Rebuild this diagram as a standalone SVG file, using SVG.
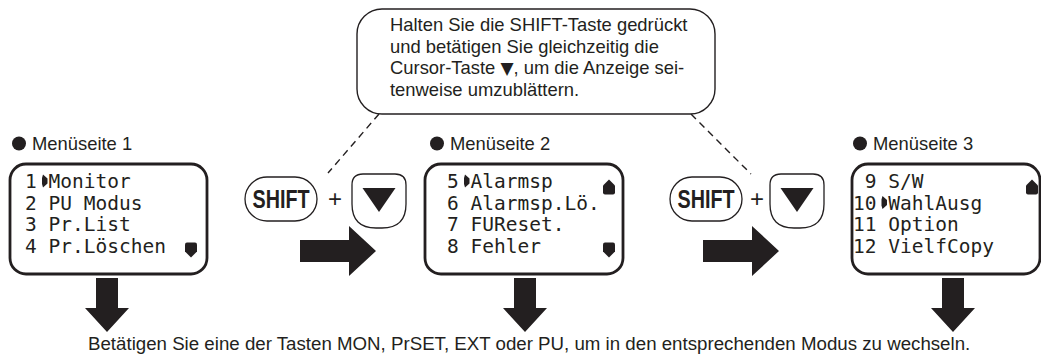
<svg xmlns="http://www.w3.org/2000/svg" width="1041" height="357" viewBox="0 0 1041 357">
<defs>
<style>
.txt{font-family:"Liberation Sans",Arial,sans-serif;font-size:18.4px;fill:#231f20}
.btm{font-family:"Liberation Sans",Arial,sans-serif;font-size:18.7px;fill:#231f20}
.mono{font-family:"DejaVu Sans Mono",monospace;font-size:19.5px;fill:#231f20}
.box{fill:#fff;stroke:#231f20;stroke-width:2.8}
.key{fill:#fff;stroke:#231f20;stroke-width:1.3}
.blk{fill:#231f20}
.dash{stroke:#231f20;stroke-width:1.4;stroke-dasharray:7 5;fill:none}
.shift{font-family:"Liberation Sans",Arial,sans-serif;font-weight:bold;font-size:26px;fill:#231f20}
.plus{font-family:"Liberation Sans",Arial,sans-serif;font-size:24px;fill:#231f20}
</style>
<path id="rarrow" d="M0,-11 H49 V-25 L76,0 L49,25 V11 H0 Z"/>
<path id="darrow" d="M-11,0 H11 V30 H22 L0,54 L-22,30 H-11 Z"/>
<path id="cur" d="M-1.5,-6.5 L3,-2.5 L3,2.5 L-1.5,6.5 L-2.5,3 L-2.5,-3 Z"/>
<path id="dn" d="M-6,-5.5 Q-6,-7.5 -4,-7.5 H4 Q6,-7.5 6,-5.5 V1.5 L0,7.5 L-6,1.5 Z"/>
<path id="up" d="M-6,5.5 Q-6,7.5 -4,7.5 H4 Q6,7.5 6,5.5 V-1.5 L0,-7.5 L-6,-1.5 Z"/>
<path id="dkey" d="M11,0 H43 Q54,0 54,11 V30 Q54,54 30,54 H24 Q0,54 0,30 V11 Q0,0 11,0 Z"/>
</defs>

<g id="connectors">
<line class="dash" x1="379" y1="114" x2="328" y2="173"/>
<line class="dash" x1="691" y1="114" x2="751" y2="174"/>
<use href="#rarrow" class="blk" x="300" y="251"/>
<use href="#rarrow" class="blk" x="703" y="251"/>
<use href="#darrow" class="blk" x="107" y="278"/>
<use href="#darrow" class="blk" x="525" y="278"/>
<use href="#darrow" class="blk" x="953" y="278"/>
</g>

<g id="callout">
<rect x="357" y="9" width="358" height="105" rx="25" fill="#fff" stroke="#231f20" stroke-width="1.4"/>
<text class="txt" x="390" y="31">Halten Sie die SHIFT-Taste gedrückt</text>
<text class="txt" x="390" y="52.5">und betätigen Sie gleichzeitig die</text>
<text class="txt" x="390" y="74">Cursor-Taste <tspan font-family="DejaVu Sans" font-size="17px">▼</tspan>, um die Anzeige sei-</text>
<text class="txt" x="390" y="95.5">tenweise umzublättern.</text>
</g>

<g id="label1">
<circle cx="19" cy="143.5" r="7" class="blk"/>
<text class="txt" x="32" y="150">Menüseite 1</text>
</g>
<g id="label2">
<circle cx="437" cy="143.5" r="7" class="blk"/>
<text class="txt" x="450" y="150">Menüseite 2</text>
</g>
<g id="label3">
<circle cx="860" cy="143.5" r="7" class="blk"/>
<text class="txt" x="873" y="150">Menüseite 3</text>
</g>

<g id="menu1">
<rect class="box" x="10" y="164" width="197" height="110" rx="16"/>
<text class="mono" x="25" y="188" xml:space="preserve">1 Monitor</text>
<use href="#cur" class="blk" x="44.5" y="181"/>
<text class="mono" x="25" y="209.5">2 PU Modus</text>
<text class="mono" x="25" y="231">3 Pr.List</text>
<text class="mono" x="25" y="252.5">4 Pr.Löschen</text>
<use href="#dn" class="blk" x="191" y="250"/>
</g>

<g id="shiftkey1">
<rect class="key" x="245" y="177" width="72" height="44" rx="22"/>
<text class="shift" transform="translate(281,208) scale(0.76,1)" text-anchor="middle">SHIFT</text>
<text class="plus" x="335" y="207" text-anchor="middle">+</text>
</g>
<g id="downkey1">
<use href="#dkey" class="key" x="352" y="174"/>
<path class="blk" d="M362.5,188 H395.5 L379,212 Z"/>
</g>

<g id="menu2">
<rect class="box" x="425" y="164" width="198" height="110" rx="16"/>
<text class="mono" x="447" y="188" xml:space="preserve">5 Alarmsp</text>
<use href="#cur" class="blk" x="466.5" y="181"/>
<text class="mono" x="447" y="209.5">6 Alarmsp.Lö.</text>
<text class="mono" x="447" y="231">7 FUReset.</text>
<text class="mono" x="447" y="252.5">8 Fehler</text>
<use href="#up" class="blk" x="609" y="187"/>
<use href="#dn" class="blk" x="609" y="250"/>
</g>

<g id="shiftkey2">
<rect class="key" x="670" y="177" width="72" height="44" rx="22"/>
<text class="shift" transform="translate(706,208) scale(0.76,1)" text-anchor="middle">SHIFT</text>
<text class="plus" x="757" y="207" text-anchor="middle">+</text>
</g>
<g id="downkey2">
<use href="#dkey" class="key" x="770" y="174"/>
<path class="blk" d="M780.5,188 H813.5 L797,212 Z"/>
</g>

<g id="menu3">
<rect class="box" x="852" y="164" width="188" height="110" rx="16"/>
<text class="mono" x="853" y="188" xml:space="preserve"> 9 S/W</text>
<text class="mono" x="853" y="209.5" xml:space="preserve">10 WahlAusg</text>
<use href="#cur" class="blk" x="884" y="202.5"/>
<text class="mono" x="853" y="231">11 Option</text>
<text class="mono" x="853" y="252.5">12 VielfCopy</text>
<use href="#up" class="blk" x="1032" y="187"/>
</g>

<text class="btm" x="88" y="350">Betätigen Sie eine der Tasten MON, PrSET, EXT oder PU, um in den entsprechenden Modus zu wechseln.</text>
</svg>
